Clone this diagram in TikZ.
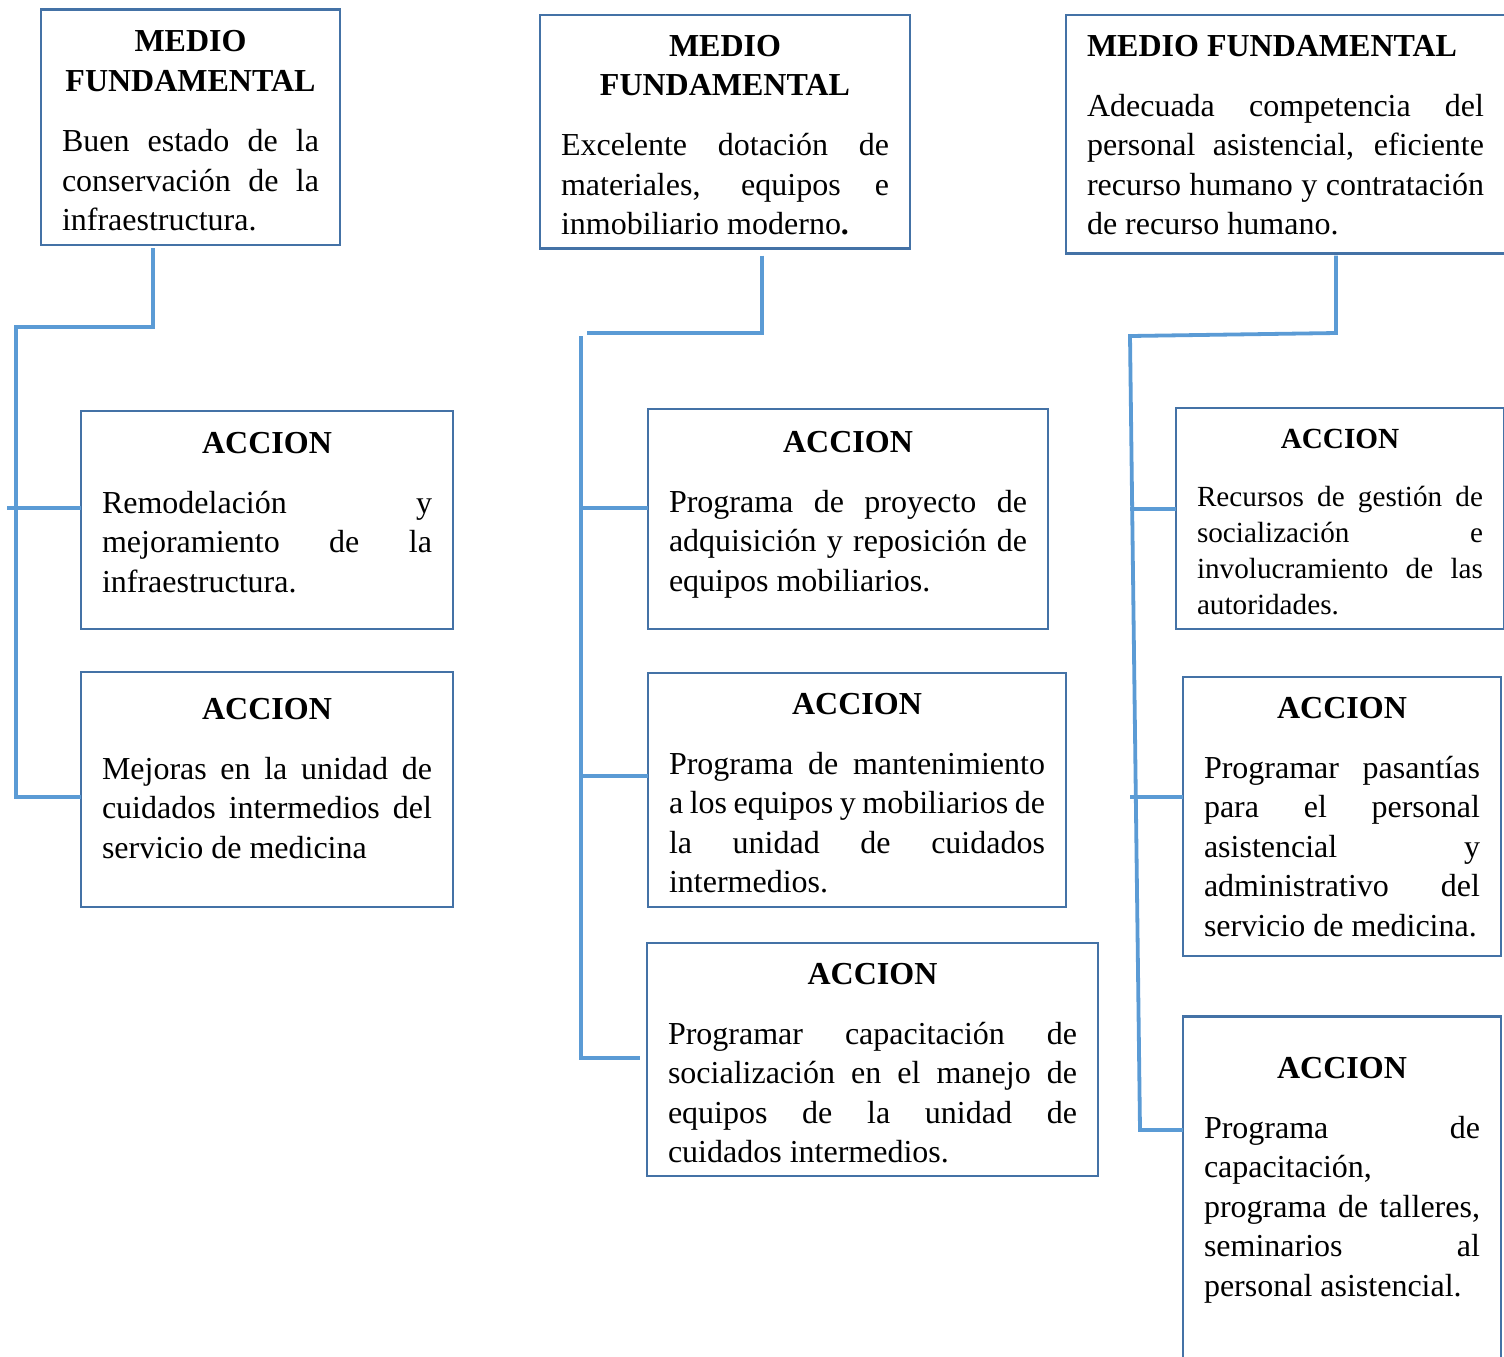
\documentclass[tikz,border=0pt]{standalone}
\usepackage{fontspec}
\setmainfont{Liberation Serif}
\usepackage{xcolor}
\usepackage{tikz}
\usetikzlibrary{positioning}
\definecolor{bordeazul}{HTML}{4472A6}
\definecolor{lineaazul}{HTML}{5B9BD5}
\tolerance=10000
\hyphenpenalty=10000

\begin{document}
\begin{tikzpicture}[x=0.5pt, y=-0.5pt,
		caja/.style={draw=bordeazul, line width=1.3pt, anchor=north west, outer sep=0pt,
			inner xsep=10.5pt, inner ysep=0pt, align=justify, text height=20.5pt,
			font=\fontsize{16}{19.75}\selectfont}, % every MEDIO / ACCION box
		chica/.style={font=\fontsize{14.6}{18}\selectfont}, % smaller text box
		conector/.style={draw=lineaazul, line width=1.9pt} % blue connecting lines
		]
		\useasboundingbox (0,0) rectangle (1504,1356);
		
		% MEDIO FUNDAMENTAL boxes
		\node[caja, text width=128.5pt, text height=21pt, text depth=96.8pt] (mf1) at (41,9.5)
		{{\centering\bfseries MEDIO\par FUNDAMENTAL\par}\vspace{10.5pt}Buen estado de la\linebreak conservación de la\linebreak infraestructura.};
		\node[caja, text width=164pt, text depth=96.25pt] (mf2) at (540,15)
		{{\centering\bfseries MEDIO\par FUNDAMENTAL\par}\vspace{10.25pt}Excelente dotación de\linebreak materiales, equipos e\linebreak inmobiliario moderno\textbf{.}};
		\node[caja, text width=198.5pt, text depth=98.75pt] (mf3) at (1066,15)
		{{\bfseries MEDIO FUNDAMENTAL\par}\vspace{10.25pt}Adecuada competencia del\linebreak personal asistencial, eficiente\linebreak recurso humano y contratación\linebreak de recurso humano.};
		
		% ACCION boxes, column 1
		\node[caja, text width=165pt, text height=21pt, text depth=88pt] (a11) at (81,411)
		{{\centering\bfseries ACCION\par}\vspace{10.25pt}Remodelación y\linebreak mejoramiento de la\linebreak infraestructura.};
		\node[caja, text width=165pt, text height=23.5pt, text depth=94pt] (a12) at (81,672)
		{{\centering\bfseries ACCION\par}\vspace{10.25pt}Mejoras en la unidad de\linebreak cuidados intermedios del\linebreak servicio de medicina};
		
		% ACCION boxes, column 2
		\node[caja, text width=179pt, text height=21.5pt, text depth=88.5pt] (a21) at (648,409)
		{{\centering\bfseries ACCION\par}\vspace{10.25pt}Programa de proyecto de\linebreak adquisición y reposición de\linebreak equipos mobiliarios.};
		\node[caja, text width=188pt, text depth=96.5pt] (a22) at (648,673)
		{{\centering\bfseries ACCION\par}\vspace{10.25pt}Programa de mantenimiento\linebreak a los equipos y mobiliarios de\linebreak la unidad de cuidados\linebreak intermedios.};
		\node[caja, text width=204.5pt, text depth=96pt] (a23) at (647,943)
		{{\centering\bfseries ACCION\par}\vspace{10.25pt}Programar capacitación de\linebreak socialización en el manejo de\linebreak equipos de la unidad de\linebreak cuidados intermedios.};
		
		% ACCION boxes, column 3
		\node[caja, chica, text width=143pt, text height=20pt, text depth=90.5pt] (a31) at (1176,408)
		{{\centering\bfseries ACCION\par}\vspace{11pt}Recursos de gestión de\linebreak socialización e\linebreak involucramiento de las\linebreak autoridades.};
		\node[caja, text width=138pt, text depth=119pt] (a32) at (1183,677)
		{{\centering\bfseries ACCION\par}\vspace{10.25pt}Programar pasantías\linebreak para el personal\linebreak asistencial y\linebreak administrativo del\linebreak servicio de medicina.};
		\node[caja, text width=138pt, text height=30.75pt, text depth=165pt] (a33) at (1183,1016.5)
		{{\centering\bfseries ACCION\par}\vspace{10.25pt}Programa de\linebreak capacitación,\linebreak programa de talleres,\linebreak seminarios al\linebreak personal asistencial.};
		
		% column 1 lines
		\coordinate (s1) at ([yshift=-1.5pt]mf1.south);
		\coordinate (m1) at (153,327);
		\coordinate (t1) at (16,327);
		\coordinate (j11) at ([yshift=6pt]a11.west);
		\coordinate (j12) at ([yshift=-3.75pt]a12.west);
		\draw[conector] (s1 -| m1) -- (m1) -- (t1) |- (j12);
		\draw[conector] (j11) -- ++(-74,0);
		
		% column 2 lines
		\coordinate (s2) at ([yshift=-3.5pt]mf2.south);
		\coordinate (m2) at (762,333);
		\coordinate (h2) at (587,333);
		\coordinate (t2) at (581,336);
		\coordinate (j21) at ([yshift=5.5pt]a21.west);
		\coordinate (j22) at ([yshift=7pt]a22.west);
		\coordinate (j23) at ([xshift=-3.5pt, yshift=0.75pt]a23.west);
		\draw[conector] (s2 -| m2) -- (m2) -- (h2);
		\draw[conector] (t2) |- (j23);
		\draw[conector] (t2 |- j21) -- (j21);
		\draw[conector] (t2 |- j22) -- (j22);
		
		% column 3 lines
		\coordinate (s3) at ([yshift=-1pt]mf3.south);
		\coordinate (m3) at (1336,333);
		\coordinate (t3) at (1130,336);
		\coordinate (b3) at (1140,1130);
		\coordinate (j31) at ([yshift=4.75pt]a31.west);
		\coordinate (j32) at ([yshift=9.75pt]a32.west);
		\draw[conector] (s3 -| m3) -- (m3) -- (t3) -- (b3) -- (b3 -| a33.west);
		\draw[conector] (t3 |- j31) -- (j31);
		\draw[conector] (t3 |- j32) -- (j32);
	\end{tikzpicture}
\end{document}
